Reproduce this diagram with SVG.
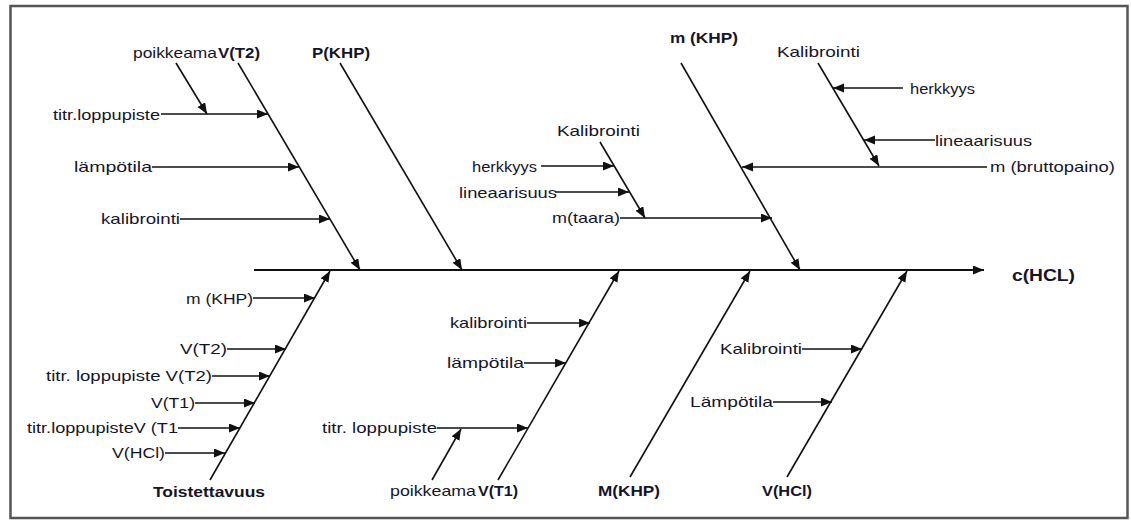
<svg xmlns="http://www.w3.org/2000/svg" width="1131" height="521" viewBox="0 0 1131 521">
<style>
text{font-family:"Liberation Sans",Arial,sans-serif;font-size:15px;fill:#15152a}
.b{font-weight:bold}
.big{font-size:17px;font-weight:bold}
.ln{stroke:#111;stroke-width:1.6;fill:none;marker-end:url(#ah)}
</style>
<defs>
<marker id="ah" markerUnits="userSpaceOnUse" markerWidth="12" markerHeight="10" refX="11" refY="4.5" orient="auto">
<path d="M0,0 L11,4.5 L0,9 z" fill="#111"/>
</marker>
</defs>
<rect x="0" y="0" width="1131" height="521" fill="#fff"/>
<rect x="10.5" y="6" width="1117" height="512" fill="none" stroke="#555" stroke-width="2.5"/>
<g id="connectors">
<line class="ln" x1="254" y1="270" x2="984" y2="270" style="stroke-width:2"/>
<line class="ln" x1="238" y1="63" x2="360" y2="270"/>
<line class="ln" x1="340" y1="63" x2="462" y2="270"/>
<line class="ln" x1="681" y1="63" x2="800" y2="270"/>
<line class="ln" x1="176" y1="63" x2="207" y2="114"/>
<line class="ln" x1="161" y1="114" x2="268" y2="114"/>
<line class="ln" x1="152" y1="167" x2="299" y2="167"/>
<line class="ln" x1="180" y1="219" x2="330" y2="219"/>
<line class="ln" x1="600" y1="142" x2="645" y2="218"/>
<line class="ln" x1="541" y1="166" x2="614" y2="166"/>
<line class="ln" x1="555" y1="192" x2="629" y2="192"/>
<line class="ln" x1="620" y1="218" x2="772" y2="218"/>
<line class="ln" x1="987" y1="167" x2="742" y2="167"/>
<line class="ln" x1="818" y1="63" x2="879" y2="166"/>
<line class="ln" x1="903" y1="88" x2="833" y2="88"/>
<line class="ln" x1="935" y1="140" x2="864" y2="140"/>
<line class="ln" x1="210" y1="480" x2="330" y2="271"/>
<line class="ln" x1="498" y1="480" x2="619" y2="271"/>
<line class="ln" x1="630" y1="477" x2="750" y2="271"/>
<line class="ln" x1="787" y1="477" x2="907" y2="271"/>
<line class="ln" x1="253" y1="298" x2="315" y2="298"/>
<line class="ln" x1="227" y1="349" x2="286" y2="349"/>
<line class="ln" x1="212" y1="376" x2="270" y2="376"/>
<line class="ln" x1="195" y1="403" x2="255" y2="403"/>
<line class="ln" x1="178" y1="428" x2="240" y2="428"/>
<line class="ln" x1="165" y1="453" x2="225" y2="453"/>
<line class="ln" x1="527" y1="323" x2="590" y2="323"/>
<line class="ln" x1="524" y1="363" x2="566" y2="363"/>
<line class="ln" x1="437" y1="428" x2="528" y2="428"/>
<line class="ln" x1="432" y1="480" x2="461" y2="429"/>
<line class="ln" x1="802" y1="349" x2="862" y2="349"/>
<line class="ln" x1="773" y1="402" x2="832" y2="402"/>
</g>
<g id="effect"><text class="big" x="1012" y="281" textLength="63" lengthAdjust="spacingAndGlyphs">c(HCL)</text></g>
<g id="cat-VT2">
<text x="133" y="58" textLength="84" lengthAdjust="spacingAndGlyphs">poikkeama</text>
<text class="b" x="218" y="58" textLength="42" lengthAdjust="spacingAndGlyphs">V(T2)</text>
<text x="53" y="120" textLength="107" lengthAdjust="spacingAndGlyphs">titr.loppupiste</text>
<text x="74" y="172" textLength="78" lengthAdjust="spacingAndGlyphs">lämpötila</text>
<text x="101" y="224" textLength="79" lengthAdjust="spacingAndGlyphs">kalibrointi</text>
</g>
<g id="cat-PKHP"><text class="b" x="312" y="58" textLength="58" lengthAdjust="spacingAndGlyphs">P(KHP)</text></g>
<g id="cat-mKHP">
<text class="b" x="670" y="43" textLength="68" lengthAdjust="spacingAndGlyphs">m (KHP)</text>
<text x="557" y="136" textLength="83" lengthAdjust="spacingAndGlyphs">Kalibrointi</text>
<text x="472" y="172" textLength="65" lengthAdjust="spacingAndGlyphs">herkkyys</text>
<text x="459" y="198" textLength="98" lengthAdjust="spacingAndGlyphs">lineaarisuus</text>
<text x="552" y="223" textLength="68" lengthAdjust="spacingAndGlyphs">m(taara)</text>
<text x="777" y="57" textLength="83" lengthAdjust="spacingAndGlyphs">Kalibrointi</text>
<text x="910" y="94" textLength="65" lengthAdjust="spacingAndGlyphs">herkkyys</text>
<text x="935" y="146" textLength="97" lengthAdjust="spacingAndGlyphs">lineaarisuus</text>
<text x="990" y="172" textLength="125" lengthAdjust="spacingAndGlyphs">m (bruttopaino)</text>
</g>
<g id="cat-Toistettavuus">
<text class="b" x="153" y="497" textLength="112" lengthAdjust="spacingAndGlyphs">Toistettavuus</text>
<text x="186" y="304" textLength="67" lengthAdjust="spacingAndGlyphs">m (KHP)</text>
<text x="180" y="354" textLength="47" lengthAdjust="spacingAndGlyphs">V(T2)</text>
<text x="46" y="381" textLength="166" lengthAdjust="spacingAndGlyphs">titr. loppupiste V(T2)</text>
<text x="151" y="408" textLength="44" lengthAdjust="spacingAndGlyphs">V(T1)</text>
<text x="27" y="433" textLength="151" lengthAdjust="spacingAndGlyphs">titr.loppupisteV (T1</text>
<text x="112" y="458" textLength="53" lengthAdjust="spacingAndGlyphs">V(HCl)</text>
</g>
<g id="cat-VT1">
<text x="390" y="496" textLength="86" lengthAdjust="spacingAndGlyphs">poikkeama</text>
<text class="b" x="478" y="496" textLength="40" lengthAdjust="spacingAndGlyphs">V(T1)</text>
<text x="450" y="328" textLength="77" lengthAdjust="spacingAndGlyphs">kalibrointi</text>
<text x="447" y="368" textLength="77" lengthAdjust="spacingAndGlyphs">lämpötila</text>
<text x="322" y="433" textLength="115" lengthAdjust="spacingAndGlyphs">titr. loppupiste</text>
</g>
<g id="cat-MKHP"><text class="b" x="598" y="496" textLength="62" lengthAdjust="spacingAndGlyphs">M(KHP)</text></g>
<g id="cat-VHCl">
<text class="b" x="762" y="496" textLength="50" lengthAdjust="spacingAndGlyphs">V(HCl)</text>
<text x="720" y="354" textLength="82" lengthAdjust="spacingAndGlyphs">Kalibrointi</text>
<text x="690" y="407" textLength="83" lengthAdjust="spacingAndGlyphs">Lämpötila</text>
</g>
</svg>
